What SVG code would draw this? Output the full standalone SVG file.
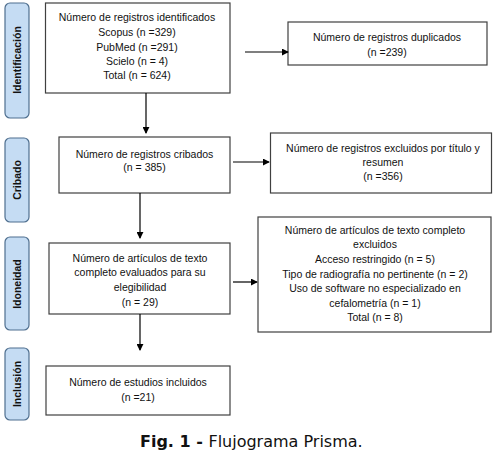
<svg xmlns="http://www.w3.org/2000/svg" width="496" height="462" viewBox="0 0 496 462">
<style>
.box{fill:#fff;stroke:#404040;stroke-width:1.2}
.lab{fill:#c5dcf3;stroke:#4f6f8f;stroke-width:1.2}
.t{font-family:"Liberation Sans",Arial,sans-serif;font-size:10.5px;fill:#111;text-anchor:middle}
.lt{font-family:"Liberation Sans",Arial,sans-serif;font-size:10.5px;font-weight:bold;fill:#111;text-anchor:middle}
.c{stroke:#000;stroke-width:1.2;fill:none;marker-end:url(#ah)}
.cap{font-family:"DejaVu Sans",Verdana,sans-serif;font-size:16px;fill:#111}
</style>
<defs>
<marker id="ah" viewBox="0 0 8 8" refX="7" refY="4" markerWidth="7" markerHeight="7" markerUnits="userSpaceOnUse" orient="auto">
<path d="M0,0 L8,4 L0,8 z" fill="#000"/>
</marker>
</defs>
<g id="lab-identificacion"><rect class="lab" x="5" y="3" width="24" height="115" rx="5"/><text class="lt" transform="translate(20.5,60) rotate(-90)">Identificación</text></g>
<g id="lab-cribado"><rect class="lab" x="5" y="138" width="24" height="84" rx="5"/><text class="lt" transform="translate(20.5,180) rotate(-90)">Cribado</text></g>
<g id="lab-idoneidad"><rect class="lab" x="5" y="237" width="24" height="93" rx="5"/><text class="lt" transform="translate(20.5,284) rotate(-90)">Idoneidad</text></g>
<g id="lab-inclusion"><rect class="lab" x="5" y="348" width="24" height="72" rx="5"/><text class="lt" transform="translate(20.5,384) rotate(-90)">Inclusión</text></g>

<g id="box-identificados"><rect class="box" x="45.5" y="3" width="184.5" height="90"/>
<text class="t" x="137" y="21">Número de registros identificados</text>
<text class="t" x="137" y="36">Scopus (n =329)</text>
<text class="t" x="137" y="50.5">PubMed (n =291)</text>
<text class="t" x="137" y="65">Scielo (n = 4)</text>
<text class="t" x="137" y="79">Total (n = 624)</text></g>

<g id="box-duplicados"><rect class="box" x="288" y="22" width="199" height="43"/>
<text class="t" x="387" y="40.5">Número de registros duplicados</text>
<text class="t" x="387" y="56">(n =239)</text></g>

<g id="box-cribados"><rect class="box" x="59" y="137" width="171" height="56"/>
<text class="t" x="144.5" y="157.5">Número de registros cribados</text>
<text class="t" x="144.5" y="171">(n = 385)</text></g>

<g id="box-excl-titulo"><rect class="box" x="270.5" y="133" width="221" height="60"/>
<text class="t" x="383" y="152">Número de registros excluidos por título y</text>
<text class="t" x="383" y="166">resumen</text>
<text class="t" x="383" y="180">(n =356)</text></g>

<g id="box-evaluados"><rect class="box" x="49" y="243" width="181" height="71"/>
<text class="t" x="140" y="261.5">Número de artículos de texto</text>
<text class="t" x="140" y="276">completo evaluados para su</text>
<text class="t" x="140" y="291">elegibilidad</text>
<text class="t" x="140" y="305.5">(n = 29)</text></g>

<g id="box-excl-texto"><rect class="box" x="258" y="217" width="233" height="115"/>
<text class="t" x="375" y="233.5">Número de artículos de texto completo</text>
<text class="t" x="375" y="248">excluidos</text>
<text class="t" x="375" y="263">Acceso restringido (n = 5)</text>
<text class="t" x="375" y="277.5">Tipo de radiografía no pertinente (n = 2)</text>
<text class="t" x="375" y="292">Uso de software no especializado en</text>
<text class="t" x="375" y="306.5">cefalometría (n = 1)</text>
<text class="t" x="375" y="321">Total (n = 8)</text></g>

<g id="box-incluidos"><rect class="box" x="46" y="366" width="184" height="49"/>
<text class="t" x="138" y="385.5">Número de estudios incluidos</text>
<text class="t" x="138" y="400.5">(n =21)</text></g>

<g id="connectors">
<line class="c" x1="146" y1="93" x2="146" y2="133"/>
<line class="c" x1="245" y1="52" x2="288" y2="52"/>
<line class="c" x1="140" y1="193" x2="140" y2="238"/>
<line class="c" x1="233" y1="162" x2="269" y2="162"/>
<line class="c" x1="140" y1="314" x2="140" y2="350"/>
<line class="c" x1="233" y1="282" x2="257" y2="282"/>
</g>

<text class="cap" x="140" y="447"><tspan font-weight="bold">Fig. 1 - </tspan>Flujograma Prisma.</text>
</svg>
